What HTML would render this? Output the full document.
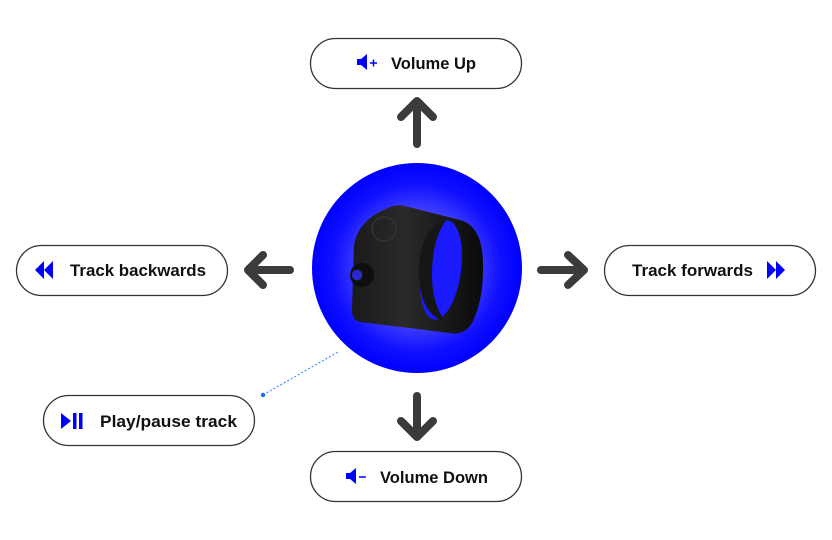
<!DOCTYPE html>
<html><head><meta charset="utf-8"><style>
html,body{margin:0;padding:0;background:#fff;width:832px;height:540px;overflow:hidden}
text{font-family:"Liberation Sans",sans-serif;font-weight:bold;font-size:17px;fill:#111}
</style></head><body>
<svg width="832" height="540" viewBox="0 0 832 540" xmlns="http://www.w3.org/2000/svg">
<defs>
<radialGradient id="g" cx="50%" cy="50%" r="50%">
<stop offset="0" stop-color="#9a9aff"/>
<stop offset="0.5" stop-color="#4848ff"/>
<stop offset="0.8" stop-color="#1010ff"/>
<stop offset="1" stop-color="#0000ff"/>
</radialGradient>
<linearGradient id="r" x1="0" y1="0" x2="1" y2="0">
<stop offset="0" stop-color="#1a1a1a"/><stop offset="0.4" stop-color="#2a2a2a"/><stop offset="1" stop-color="#0a0a0a"/>
</linearGradient>
</defs>
<g fill="#fff" stroke="#333" stroke-width="1.3">
<rect x="310.5" y="38.5" width="211" height="50" rx="25"/>
<rect x="16.5" y="245.5" width="211" height="50" rx="25"/>
<rect x="604.5" y="245.5" width="211" height="50" rx="25"/>
<rect x="43.5" y="395.5" width="211" height="50" rx="25"/>
<rect x="310.5" y="451.5" width="211" height="50" rx="25"/>
</g>
<text x="391" y="69" textLength="85" lengthAdjust="spacingAndGlyphs">Volume Up</text>
<text x="70" y="276" textLength="136" lengthAdjust="spacingAndGlyphs">Track backwards</text>
<text x="632" y="276" textLength="121" lengthAdjust="spacingAndGlyphs">Track forwards</text>
<text x="100" y="427" textLength="137" lengthAdjust="spacingAndGlyphs">Play/pause track</text>
<text x="380" y="483" textLength="108" lengthAdjust="spacingAndGlyphs">Volume Down</text>
<g fill="#0000ff">
<path d="M357 59h4l6-5v16l-6-5h-4z"/>
<path d="M370 63h7M373.5 59.5v7" stroke="#0000ff" stroke-width="1.5"/>
<path d="M346 473h4l6-5v16l-6-5h-4z"/>
<path d="M359 477h7" stroke="#0000ff" stroke-width="1.5"/>
<path d="M35 270l9-9v18zM44 270l9-9v18z"/>
<path d="M767 261l9 9-9 9zM776 261l9 9-9 9z"/>
<path d="M61 413l10 8-10 8z"/>
<rect x="73" y="413" width="3.5" height="16"/>
<rect x="79" y="413" width="3.5" height="16"/>
</g>
<g stroke="#3b3b3b" stroke-width="8" stroke-linecap="round" stroke-linejoin="round" fill="none">
<path d="M417 144V102M401 117L417 101L433 117"/>
<path d="M417 396V436M401 421L417 437L433 421"/>
<path d="M290 270H249M263 255L248 270L263 285"/>
<path d="M541 270H583M568 255L584 270L568 285"/>
</g>
<line x1="263" y1="395" x2="338" y2="352" stroke="#4a90ff" stroke-width="1.2" stroke-dasharray="2 2"/>
<circle cx="263" cy="395" r="2.2" fill="#1a6cff"/>
<circle cx="417" cy="268" r="105" fill="url(#g)"/>
<path d="M388 208 Q395 204 405 206 L460 220 Q482 226 483 262 Q484 300 472 323 Q464 336 450 333 L360 322 Q352 320 352 310 L354 245 Q358 220 388 208z" fill="url(#r)"/>
<ellipse cx="441" cy="270" rx="20" ry="50" fill="#1a1aff" transform="rotate(8 441 270)"/>
<path d="M419 270 Q420 228 446 220 Q432 240 432 275 Q432 305 446 322 Q419 315 419 270z" fill="#161616"/>
<circle cx="384" cy="229" r="12" fill="none" stroke="#333" stroke-width="1.5"/>
<circle cx="362" cy="275" r="12" fill="#0e0e0e"/>
<circle cx="357" cy="275" r="6" fill="#2a2acc" stroke="#111" stroke-width="1.5"/>
</svg>
</body></html>
